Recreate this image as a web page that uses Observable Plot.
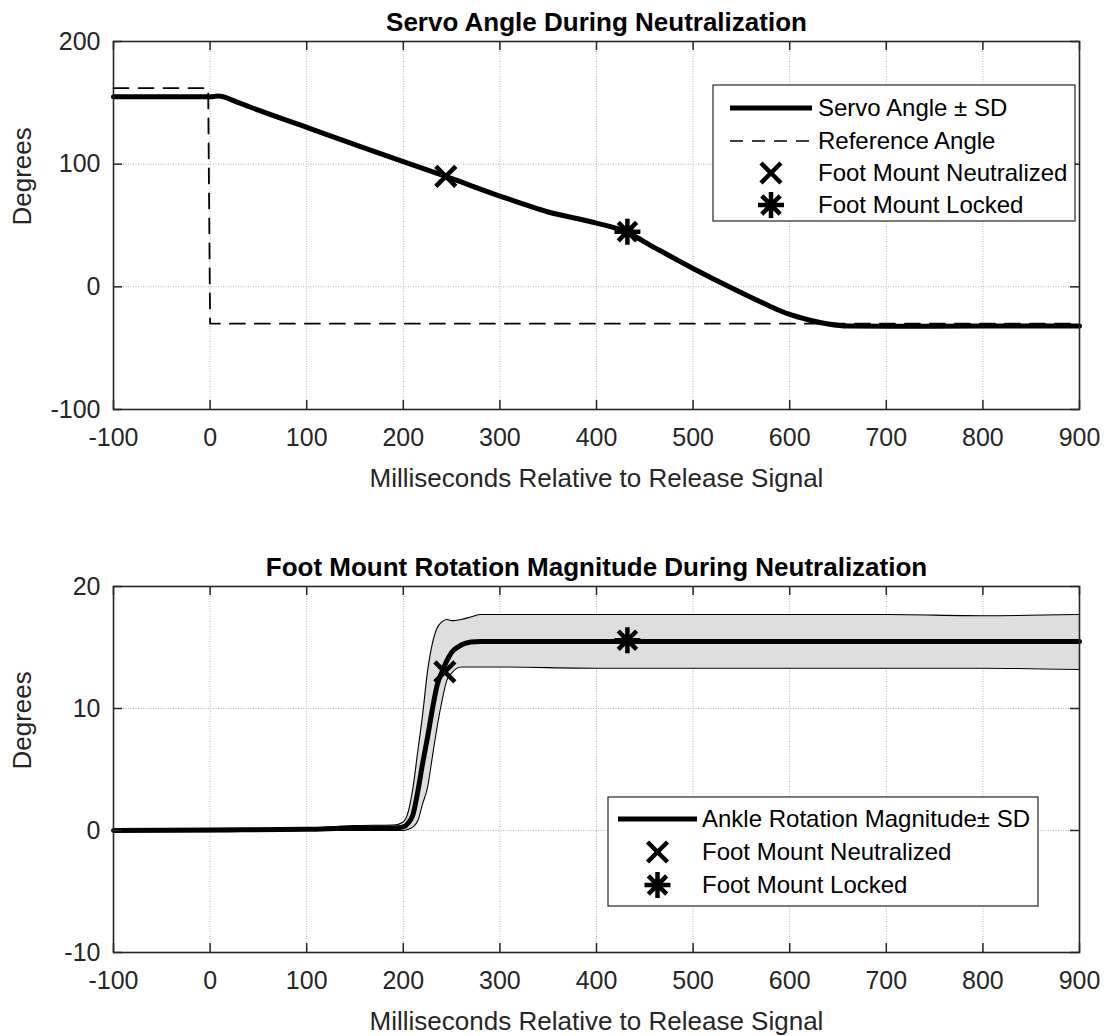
<!DOCTYPE html>
<html><head><meta charset="utf-8">
<script src="https://cdn.jsdelivr.net/npm/d3@7"></script>
<script src="https://cdn.jsdelivr.net/npm/@observablehq/plot@0.6"></script>
<style>
body{margin:0;background:#fff;}
#chart{width:1107px;height:1036px;position:relative;background:#fff;}
svg{display:block}
</style></head><body><div id="chart"></div>
<script>
// ---------- data ----------
const xTicks = [-100, 0, 100, 200, 300, 400, 500, 600, 700, 800, 900];
const servoYTicks = [-100, 0, 100, 200];
const rotYTicks = [-10, 0, 10, 20];

// Servo angle (mean)
const servoMs  = [-100, 0, 8, 30, 50, 100, 150, 200, 244, 300, 350, 400, 430, 460, 500, 540, 580, 590, 600, 620, 640, 660, 700, 800, 900];
const servoDeg = [155, 155, 155.5, 150, 144, 130, 116, 102, 90, 74, 61, 52, 45, 32, 15, -1, -16, -19.5, -22.5, -27, -30.3, -32, -32.2, -32, -32];

// Reference angle
const refMs  = [-100, -2, 0, 900];
const refDeg = [162, 162, -30, -30];

// Foot mount rotation magnitude (mean, +SD, -SD)
const rotMs    = [-100, 0, 100, 150, 190, 200, 205, 210, 215, 220, 225, 230, 235, 240, 245, 250, 260, 270, 280, 300, 400, 500, 600, 700, 800, 900];
const rotMean  = [0, 0.05, 0.1, 0.2, 0.2, 0.3, 0.6, 1.3, 3.2, 5.5, 7.6, 9.9, 11.9, 13.0, 13.9, 14.6, 15.2, 15.45, 15.5, 15.5, 15.5, 15.5, 15.5, 15.5, 15.5, 15.5];
const rotUpper = [0.1, 0.15, 0.2, 0.4, 0.45, 0.7, 1.5, 3.5, 6.5, 9.5, 13.0, 15.3, 16.6, 17.1, 17.3, 17.2, 17.3, 17.5, 17.7, 17.7, 17.7, 17.7, 17.7, 17.7, 17.6, 17.7];
const rotLower = [-0.1, -0.1, 0, 0, 0, 0, 0.1, 0.3, 0.8, 2.2, 3.5, 6.0, 8.5, 10.6, 12.3, 12.9, 13.4, 13.4, 13.4, 13.4, 13.3, 13.3, 13.3, 13.3, 13.3, 13.2];

// Events
const servoEventMs  = [244, 432];
const servoEventDeg = [90, 45];
const rotEventMs    = [243, 432];
const rotEventDeg   = [13, 15.6];

const servoLegend = ["Servo Angle \u00b1 SD", "Reference Angle", "Foot Mount Neutralized", "Foot Mount Locked"];
const rotLegend   = ["Ankle Rotation Magnitude\u00b1 SD", "Foot Mount Neutralized", "Foot Mount Locked"];

// ---------- build ----------
const FONT = "'Liberation Sans', Arial, Helvetica, sans-serif";
const AX = "#262626";
const servo = servoMs.map((ms, i) => ({ms, deg: servoDeg[i]}));
const ref = refMs.map((ms, i) => ({ms, deg: refDeg[i]}));
const rot = rotMs.map((ms, i) => ({ms, mean: rotMean[i], upper: rotUpper[i], lower: rotLower[i]}));
const servoEvents = servoEventMs.map((ms, i) => ({ms, deg: servoEventDeg[i]}));
const rotEvents = rotEventMs.map((ms, i) => ({ms, deg: rotEventDeg[i]}));

const symX = {draw(ctx, size) { const r = Math.sqrt(size / Math.PI); ctx.moveTo(-r, -r); ctx.lineTo(r, r); ctx.moveTo(-r, r); ctx.lineTo(r, -r); }};
const symStar = {draw(ctx, size) { const r = Math.sqrt(size / Math.PI); const d = r * Math.SQRT1_2;
  ctx.moveTo(0, -r); ctx.lineTo(0, r); ctx.moveTo(-r, 0); ctx.lineTo(r, 0);
  ctx.moveTo(-d, -d); ctx.lineTo(d, d); ctx.moveTo(-d, d); ctx.lineTo(d, -d); }};

function panel({height, marginTop, marginBottom, yDomain, yTicks, title, marks}) {
  const W = 1107, ML = 113, MR = 28;
  const fw = W - ML - MR, fh = height - marginTop - marginBottom;
  return Plot.plot({
    width: W, height, marginLeft: ML, marginRight: MR, marginTop, marginBottom,
    style: {fontFamily: FONT, background: "white", color: AX, overflow: "visible"},
    x: {domain: [-100, 900]},
    y: {domain: yDomain},
    marks: [
      Plot.gridX(xTicks, {stroke: "#b4b4b4", strokeOpacity: 1, strokeWidth: 1, strokeDasharray: "1,1.5"}),
      Plot.gridY(yTicks, {stroke: "#b4b4b4", strokeOpacity: 1, strokeWidth: 1, strokeDasharray: "1,1.5"}),
      ...marks,
      Plot.tickX(xTicks, {x: d => d, insetTop: fh - 9, stroke: AX, strokeWidth: 1.5}),
      Plot.tickX(xTicks, {x: d => d, insetBottom: fh - 9, stroke: AX, strokeWidth: 1.5}),
      Plot.tickY(yTicks, {y: d => d, insetLeft: fw - 9, stroke: AX, strokeWidth: 1.5}),
      Plot.tickY(yTicks, {y: d => d, insetRight: fw - 9, stroke: AX, strokeWidth: 1.5}),
      Plot.frame({stroke: AX, strokeWidth: 1.6}),
      Plot.axisX(xTicks, {tickSize: 0, tickPadding: 19, fontSize: 25, tickFormat: d => String(d), label: null, fill: AX}),
      Plot.axisY(yTicks, {tickSize: 0, tickPadding: 13, fontSize: 25, tickFormat: d => String(d), label: null, fill: AX}),
      Plot.text(["Milliseconds Relative to Release Signal"], {text: d => d, frameAnchor: "bottom", dy: 77, fontSize: 26, fill: AX}),
      Plot.text(["Degrees"], {text: d => d, frameAnchor: "left", dx: -91, rotate: -90, fontSize: 26, fill: AX}),
      Plot.text([title], {text: d => d, frameAnchor: "top", lineAnchor: "middle", dy: -19, fontSize: 26, fontWeight: "bold", fill: "black"})
    ]
  });
}

function addLegend(svg, {x0, y0, x1, y1, rows, lineStart, lineEnd, textX}) {
  const g = d3.select(svg).append("g").attr("font-family", FONT).attr("font-size", 24).attr("text-anchor", "start");
  g.append("rect").attr("x", x0).attr("y", y0).attr("width", x1 - x0).attr("height", y1 - y0)
    .attr("fill", "white").attr("stroke", AX).attr("stroke-width", 1.2);
  const mx = (lineStart + lineEnd) / 2;
  rows.forEach(r => {
    if (r.type === "line") {
      g.append("line").attr("x1", lineStart).attr("x2", lineEnd).attr("y1", r.y).attr("y2", r.y)
        .attr("stroke", "black").attr("stroke-width", 5);
    } else if (r.type === "dash") {
      g.append("line").attr("x1", lineStart).attr("x2", lineEnd).attr("y1", r.y).attr("y2", r.y)
        .attr("stroke", "black").attr("stroke-width", 1.6).attr("stroke-dasharray", "13,9");
    } else if (r.type === "x") {
      const s = 10;
      g.append("path").attr("d", `M${mx - s},${r.y - s}L${mx + s},${r.y + s}M${mx - s},${r.y + s}L${mx + s},${r.y - s}`)
        .attr("stroke", "black").attr("stroke-width", 4.5).attr("fill", "none");
    } else if (r.type === "star") {
      const s = 13, d = s * Math.SQRT1_2;
      g.append("path").attr("d", `M${mx},${r.y - s}L${mx},${r.y + s}M${mx - s},${r.y}L${mx + s},${r.y}M${mx - d},${r.y - d}L${mx + d},${r.y + d}M${mx - d},${r.y + d}L${mx + d},${r.y - d}`)
        .attr("stroke", "black").attr("stroke-width", 4.5).attr("fill", "none");
    }
    g.append("text").attr("x", textX).attr("y", r.y).attr("dy", "0.35em").attr("text-anchor", "start").attr("fill", "black").text(r.label);
  });
}

const topPanel = panel({
  height: 515, marginTop: 41, marginBottom: 106,
  yDomain: [-100, 200], yTicks: servoYTicks,
  title: "Servo Angle During Neutralization",
  marks: [
    Plot.line(ref, {x: "ms", y: "deg", stroke: "black", strokeWidth: 1.8, strokeDasharray: "15,10"}),
    Plot.line(servo, {x: "ms", y: "deg", stroke: "black", strokeWidth: 5, curve: "monotone-x"}),
    Plot.dot(servoEvents.slice(0, 1), {x: "ms", y: "deg", symbol: symX, r: 10, stroke: "black", strokeWidth: 4.5, fill: "none"}),
    Plot.dot(servoEvents.slice(1, 2), {x: "ms", y: "deg", symbol: symStar, r: 13, stroke: "black", strokeWidth: 4.5, fill: "none"})
  ]
});
addLegend(topPanel, {x0: 713, y0: 85, x1: 1075, y1: 221, lineStart: 730, lineEnd: 812, textX: 818,
  rows: [
    {type: "line", label: servoLegend[0], y: 108},
    {type: "dash", label: servoLegend[1], y: 141},
    {type: "x", label: servoLegend[2], y: 173},
    {type: "star", label: servoLegend[3], y: 205}
  ]});

const bottomPanel = panel({
  height: 521, marginTop: 71, marginBottom: 84,
  yDomain: [-10, 20], yTicks: rotYTicks,
  title: "Foot Mount Rotation Magnitude During Neutralization",
  marks: [
    Plot.areaY(rot, {x: "ms", y1: "lower", y2: "upper", fill: "#dedede", curve: "monotone-x"}),
    Plot.line(rot, {x: "ms", y: "upper", stroke: "black", strokeWidth: 1.1, curve: "monotone-x"}),
    Plot.line(rot, {x: "ms", y: "lower", stroke: "black", strokeWidth: 1.1, curve: "monotone-x"}),
    Plot.line(rot, {x: "ms", y: "mean", stroke: "black", strokeWidth: 5, curve: "monotone-x"}),
    Plot.dot(rotEvents.slice(0, 1), {x: "ms", y: "deg", symbol: symX, r: 10, stroke: "black", strokeWidth: 4.5, fill: "none"}),
    Plot.dot(rotEvents.slice(1, 2), {x: "ms", y: "deg", symbol: symStar, r: 13, stroke: "black", strokeWidth: 4.5, fill: "none"})
  ]
});
addLegend(bottomPanel, {x0: 608, y0: 282, x1: 1038, y1: 391, lineStart: 618, lineEnd: 697, textX: 702,
  rows: [
    {type: "line", label: rotLegend[0], y: 304},
    {type: "x", label: rotLegend[1], y: 337},
    {type: "star", label: rotLegend[2], y: 370}
  ]});

const chart = document.getElementById("chart");
chart.appendChild(topPanel);
chart.appendChild(bottomPanel);
</script>
</body></html>
